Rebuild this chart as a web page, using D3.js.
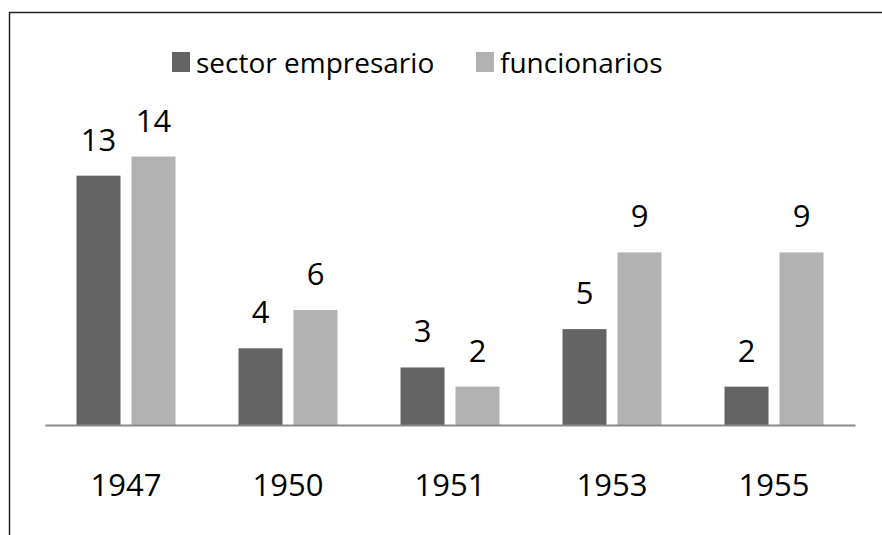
<!DOCTYPE html>
<html>
<head>
<meta charset="utf-8">
<script src="https://cdn.jsdelivr.net/npm/d3@7"></script>
<style>
  body { margin: 0; background: #fff; }
  text { font-family: "Open Sans", sans-serif; fill: #000; }
</style>
</head>
<body>
<div id="chart"></div>
<script>
const years = ['1947', '1950', '1951', '1953', '1955']
const seriesNames = ['sector empresario', 'funcionarios']
const empresario = [13, 4, 3, 5, 2]
const funcionarios = [14, 6, 2, 9, 9]
const colors = ['#646464', '#b2b2b2']

const width = 882
const height = 535
const axisY = 425

const svg = d3.select('#chart')
            .append('svg')
            .attr('width', width)
            .attr('height', height)

// frame (top + left edges only)
svg.append('line')
   .attr('x1', 9).attr('x2', width).attr('y1', 12.5).attr('y2', 12.5)
   .attr('stroke', '#222').attr('stroke-width', 1.5)
svg.append('line')
   .attr('x1', 9.5).attr('x2', 9.5).attr('y1', 12).attr('y2', height)
   .attr('stroke', '#222').attr('stroke-width', 1.5)

const x0 = d3.scaleBand()
             .domain(years)
             .range([45, 855])
             .padding(0)

const x1 = d3.scaleBand()
             .domain(seriesNames)
             .range([31.5, x0.bandwidth() - 31.5])
             .paddingInner(0.2)

const y = d3.scaleLinear()
            .domain([0, 14])
            .range([axisY, 156.5])

const rows = years.map((yr, i) => ({ year: yr, values: [empresario[i], funcionarios[i]] }))

const groups = svg.selectAll('g.year')
                  .data(rows)
                  .enter()
                  .append('g')
                  .attr('class', 'year')
                  .attr('transform', d => `translate(${x0(d.year)}, 0)`)

groups.selectAll('rect')
      .data(d => d.values.map((v, i) => ({ name: seriesNames[i], value: v, i })))
      .enter()
      .append('rect')
      .attr('x', d => x1(d.name))
      .attr('y', d => y(d.value))
      .attr('width', x1.bandwidth())
      .attr('height', d => axisY - y(d.value))
      .attr('fill', d => colors[d.i])

groups.selectAll('text.val')
      .data(d => d.values.map((v, i) => ({ name: seriesNames[i], value: v })))
      .enter()
      .append('text')
      .attr('class', 'val')
      .attr('x', d => x1(d.name) + x1.bandwidth() / 2)
      .attr('y', d => y(d.value) - 25)
      .attr('text-anchor', 'middle')
      .style('font-size', '31px')
      .text(d => d.value)

// x axis
const xAxis = svg.append('g')
                 .attr('transform', `translate(0, ${axisY})`)
                 .call(d3.axisBottom(x0).tickSize(0).tickPadding(0))
xAxis.select('.domain')
     .attr('stroke', '#898989')
     .attr('stroke-width', 2)
xAxis.selectAll('.tick text')
     .attr('y', 71)
     .attr('dy', 0)
     .style('font-size', '31px')
     .style('font-family', '"Open Sans", sans-serif')
     .attr('fill', '#000')

// legend
const legendX = [172, 476]
const legend = svg.selectAll('g.legend')
                  .data(seriesNames)
                  .enter()
                  .append('g')
                  .attr('class', 'legend')
                  .attr('transform', (_, i) => `translate(${legendX[i]}, 0)`)
legend.append('rect')
      .attr('x', 0).attr('y', 52)
      .attr('width', 18).attr('height', 20)
      .attr('fill', (_, i) => colors[i])
legend.append('text')
      .attr('x', 24)
      .attr('y', 73)
      .style('font-size', '28px')
      .text(d => d)
</script>
</body>
</html>
